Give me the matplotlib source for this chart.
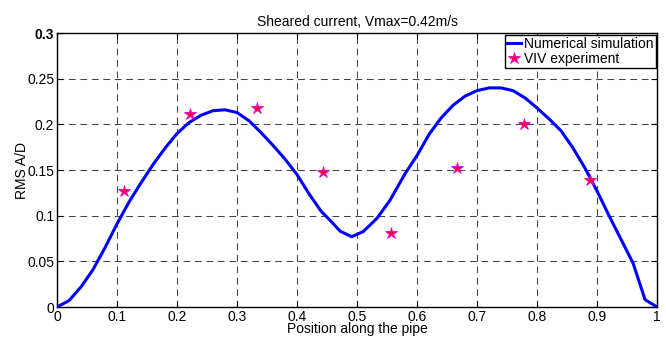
import matplotlib
matplotlib.use('Agg')
import matplotlib.pyplot as plt

plt.rcParams['font.family'] = ['Liberation Sans', 'DejaVu Sans']

# numerical simulation
sim_x = [0.00, 0.02, 0.04, 0.06, 0.08, 0.10, 0.12, 0.14, 0.16, 0.18, 0.20,
         0.22, 0.24, 0.26, 0.28, 0.30, 0.32, 0.34, 0.36, 0.38, 0.40, 0.42,
         0.44, 0.455, 0.472, 0.491, 0.51, 0.533, 0.555, 0.58, 0.60, 0.62,
         0.64, 0.66, 0.68, 0.70, 0.72, 0.74, 0.76, 0.78, 0.80, 0.82, 0.84,
         0.86, 0.88, 0.90, 0.92, 0.94, 0.96, 0.98, 1.00]
sim_y = [0.000, 0.007, 0.022, 0.041, 0.065, 0.091, 0.115, 0.136, 0.156, 0.174, 0.190,
         0.202, 0.210, 0.215, 0.216, 0.213, 0.204, 0.191, 0.177, 0.162, 0.145, 0.124,
         0.105, 0.095, 0.083, 0.077, 0.0825, 0.097, 0.117, 0.146, 0.166, 0.189,
         0.207, 0.221, 0.231, 0.237, 0.240, 0.240, 0.237, 0.229, 0.218, 0.206, 0.193,
         0.174, 0.152, 0.127, 0.100, 0.074, 0.048, 0.008, 0.000]

# VIV experiment points
exp_x = [0.111, 0.222, 0.333, 0.444, 0.556, 0.667, 0.778, 0.889]
exp_y = [0.127, 0.211, 0.218, 0.148, 0.081, 0.152, 0.200, 0.139]

fig = plt.figure(figsize=(6.66, 3.38), dpi=100)
ax = fig.add_axes([0.0856, 0.0917, 0.901, 0.8103])

ax.plot(sim_x, sim_y, color='#0000ff', lw=2.2, label='Numerical simulation', zorder=3)
ax.plot(exp_x, exp_y, ls='none', marker='*', ms=9, mfc='#ff0033', mec='#e000e0',
        mew=0.6, label='VIV experiment', zorder=4)

ax.set_xlim(0, 1)
ax.set_ylim(0, 0.3)
ax.set_xticks([0, 0.1, 0.2, 0.3, 0.4, 0.5, 0.6, 0.7, 0.8, 0.9, 1])
ax.set_xticklabels(['0', '0.1', '0.2', '0.3', '0.4', '0.5', '0.6', '0.7', '0.8', '0.9', '1'])
ax.set_yticks([0, 0.05, 0.1, 0.15, 0.2, 0.25, 0.3])
ax.set_yticklabels(['0', '0.05', '0.1', '0.15', '0.2', '0.25', '0.3'])
ax.get_yticklabels()[-1].set_fontweight('bold')
ax.tick_params(direction='in', length=4, width=0.8, labelsize=10, top=True, right=True, pad=2)
for s in ax.spines.values():
    s.set_linewidth(1.0)

ax.grid(True, color='#444444', ls=(0, (6.5, 4.5)), lw=0.75)
ax.set_axisbelow(True)

ax.set_title('Sheared current, Vmax=0.42m/s', fontsize=10, pad=5)
ax.set_xlabel('Position along the pipe', fontsize=10, labelpad=-1)
ax.set_ylabel('RMS A/D', fontsize=10, labelpad=-1.5)

leg = ax.legend(loc='upper right', borderaxespad=0.1, fancybox=False, framealpha=1,
                edgecolor='k', fontsize=10, handlelength=1.0, handletextpad=0.2,
                borderpad=0.15, labelspacing=0.1)
leg.get_frame().set_linewidth(1.0)

fig.savefig('out.png', dpi=100)
